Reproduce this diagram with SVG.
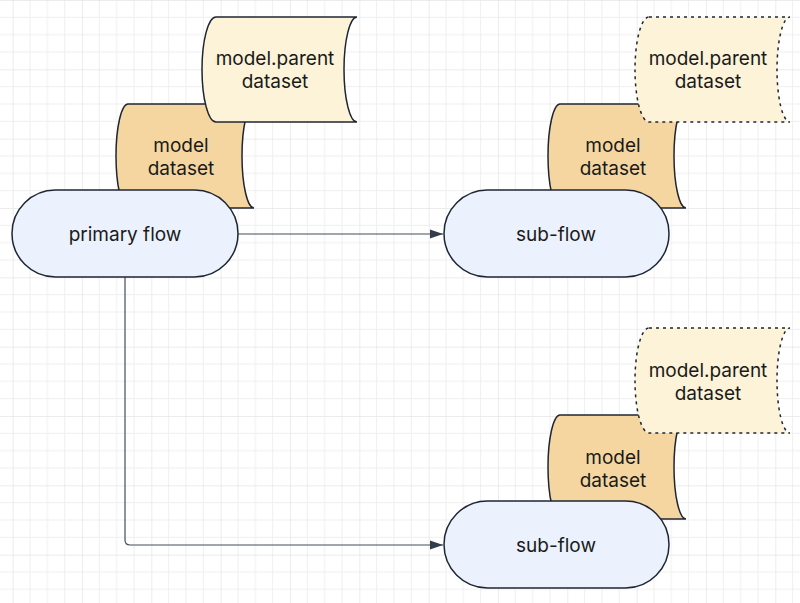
<svg xmlns="http://www.w3.org/2000/svg" width="800" height="603" viewBox="0 0 800 603">
<defs>
<pattern id="grid" patternUnits="userSpaceOnUse" x="12.67" y="0" width="69.33" height="69.33">
<path d="M17.33 0V69.33M34.67 0V69.33M52 0V69.33M0 17.33H69.33M0 34.67H69.33M0 52H69.33" stroke="#efefef" stroke-width="1" fill="none"/>
<path d="M0 0V69.33M0 0H69.33" stroke="#e6e6e6" stroke-width="1.5" fill="none"/>
</pattern>
<marker id="arr" markerWidth="14" markerHeight="10" refX="13" refY="5" orient="auto" markerUnits="userSpaceOnUse">
<path d="M0 0.5L13 5L0 9.5Z" fill="#333d4a"/>
</marker>
<path id="ds" d="M14 0H155A13 52.5 0 0 0 155 105H14A14 52.5 0 0 1 14 0Z"/>
<path id="dm" d="M12 0H138A12 52 0 0 0 138 104H12A12 52 0 0 1 12 0Z"/>
</defs>
<style>
.t{font-family:Inter,"Noto Sans","Liberation Sans",sans-serif;font-size:19px;fill:#1a1a1a;text-anchor:middle;dominant-baseline:central}
.flow{fill:#ebf1fd;stroke:#1f2633;stroke-width:1.5}
.mod{fill:#f5d6a0;stroke:#1f2633;stroke-width:1.5}
.par{fill:#fcf3d8;stroke:#1f2633;stroke-width:1.5}
.dash{stroke-dasharray:3 4}
.conn{fill:none;stroke:#454e5a;stroke-width:1.2}
</style>
<rect width="800" height="603" fill="#ffffff"/>
<rect width="800" height="603" fill="url(#grid)"/>

<g id="connectors">
<path class="conn" d="M238 234H443" marker-end="url(#arr)"/>
<path class="conn" d="M125 277V540Q125 545 130 545H443" marker-end="url(#arr)"/>
</g>

<g id="model-dataset-1">
<use href="#dm" class="mod" x="116" y="104"/>
<text class="t" x="181" y="145">model</text>
<text class="t" x="181" y="168">dataset</text>
</g>
<g id="model-parent-dataset-1">
<use href="#ds" class="par" x="202" y="17"/>
<text class="t" x="275" y="58">model.parent</text>
<text class="t" x="275" y="81">dataset</text>
</g>
<g id="primary-flow">
<rect class="flow" x="12" y="190" width="226" height="87" rx="43.5"/>
<text class="t" x="125" y="234">primary flow</text>
</g>

<g id="model-dataset-2">
<use href="#dm" class="mod" x="548" y="104"/>
<text class="t" x="613" y="145">model</text>
<text class="t" x="613" y="168">dataset</text>
</g>
<g id="model-parent-dataset-2">
<use href="#ds" class="par dash" x="635" y="17"/>
<text class="t" x="708" y="58">model.parent</text>
<text class="t" x="708" y="81">dataset</text>
</g>
<g id="sub-flow-1">
<rect class="flow" x="444" y="190" width="225" height="87" rx="43.5"/>
<text class="t" x="556" y="234">sub-flow</text>
</g>

<g id="model-dataset-3">
<use href="#dm" class="mod" x="548" y="415"/>
<text class="t" x="613" y="457">model</text>
<text class="t" x="613" y="480">dataset</text>
</g>
<g id="model-parent-dataset-3">
<use href="#ds" class="par dash" x="635" y="328"/>
<text class="t" x="708" y="370">model.parent</text>
<text class="t" x="708" y="393">dataset</text>
</g>
<g id="sub-flow-2">
<rect class="flow" x="444" y="501" width="225" height="87" rx="43.5"/>
<text class="t" x="556" y="545">sub-flow</text>
</g>
</svg>
